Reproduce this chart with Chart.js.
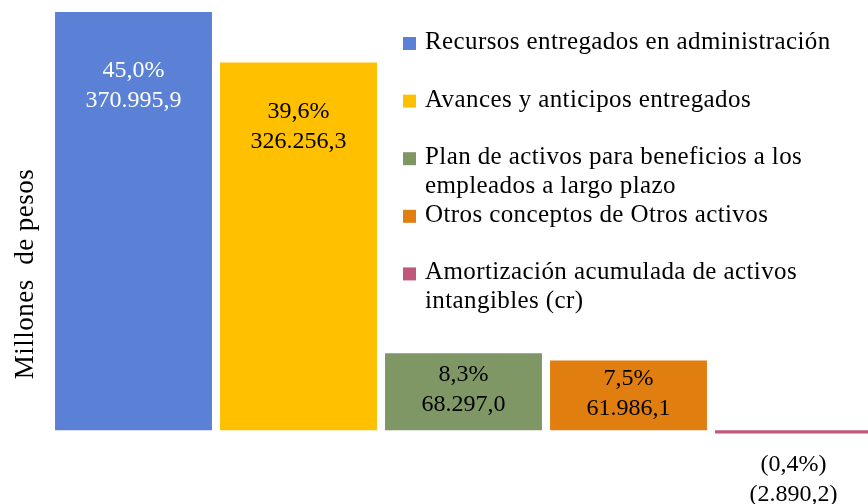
<!DOCTYPE html>
<html>
<head>
<meta charset="utf-8">
<script src="https://cdn.jsdelivr.net/npm/chart.js@4/dist/chart.umd.min.js"></script>
<style>
  html, body { margin: 0; padding: 0; background: #fff; overflow: hidden; }
  #wrap { width: 868px; height: 504px; overflow: hidden; }
</style>
</head>
<body>
<div id="wrap"><canvas id="chart" width="876" height="504"></canvas></div>
<script>
const categories = [
  ['Recursos entregados en administración'],
  ['Avances y anticipos entregados'],
  ['Plan de activos para beneficios a los', 'empleados a largo plazo'],
  ['Otros conceptos de Otros activos'],
  ['Amortización acumulada de activos', 'intangibles (cr)']
];
const values = [370995.9, 326256.3, 68297.0, 61986.1, -2890.2];
const percents = ['45,0%', '39,6%', '8,3%', '7,5%', '(0,4%)'];
const colors = ['#5A81D6', '#FFC000', '#7F9665', '#E07E10', '#C0587B'];
const labelColors = ['#ffffff', '#000000', '#000000', '#000000', '#000000'];

const FONT = '"Liberation Serif", "Times New Roman", serif';

function fmt(v) {
  const s = Math.abs(v).toFixed(1).split('.');
  const txt = s[0].replace(/\B(?=(\d{3})+(?!\d))/g, '.') + ',' + s[1];
  return v < 0 ? '(' + txt + ')' : txt;
}

const extras = {
  id: 'extras',
  afterDatasetsDraw(chart) {
    const ctx = chart.ctx;
    ctx.save();

    // value labels
    ctx.font = '24px ' + FONT;
    ctx.textAlign = 'center';
    ctx.textBaseline = 'middle';
    chart.getDatasetMeta(0).data.forEach((bar, i) => {
      const v = values[i];
      let c;
      if (v >= 0) {
        const h = bar.base - bar.y;
        c = h > 150 ? bar.y + 0.175 * h : (bar.y + bar.base) / 2 - 2;
      } else {
        c = bar.y + 46;
      }
      ctx.fillStyle = labelColors[i];
      ctx.fillText(percents[i], bar.x, c - 15);
      ctx.fillText(fmt(v), bar.x, c + 15);
    });

    // legend
    ctx.font = '25px ' + FONT;
    ctx.letterSpacing = '0.4px';
    ctx.textAlign = 'left';
    ctx.textBaseline = 'alphabetic';
    const lh = 28.8;
    let y = 49;
    categories.forEach((lines, i) => {
      ctx.fillStyle = colors[i];
      ctx.fillRect(403, y - 12, 13, 13);
      ctx.fillStyle = '#000';
      lines.forEach((t, j) => ctx.fillText(t, 425, y + j * lh));
      y += Math.max(2, lines.length) * lh;
    });

    // axis title
    ctx.letterSpacing = '0.5px';
    ctx.font = '27px ' + FONT;
    ctx.translate(33, 274);
    ctx.rotate(-Math.PI / 2);
    ctx.textAlign = 'center';
    ctx.fillText('Millones  de pesos', 0, 0);
    ctx.restore();
  }
};

new Chart(document.getElementById('chart'), {
  type: 'bar',
  data: {
    labels: categories,
    datasets: [{
      data: values,
      backgroundColor: colors,
      borderWidth: 0,
      categoryPercentage: 1,
      barPercentage: 0.951
    }]
  },
  options: {
    responsive: false,
    animation: false,
    layout: { padding: { left: 51, right: 0, top: 12, bottom: 6 } },
    plugins: { legend: { display: false }, tooltip: { enabled: false } },
    scales: {
      x: { display: false },
      y: { display: false, min: -60000, max: 371000 }
    }
  },
  plugins: [extras]
});
</script>
</body>
</html>
